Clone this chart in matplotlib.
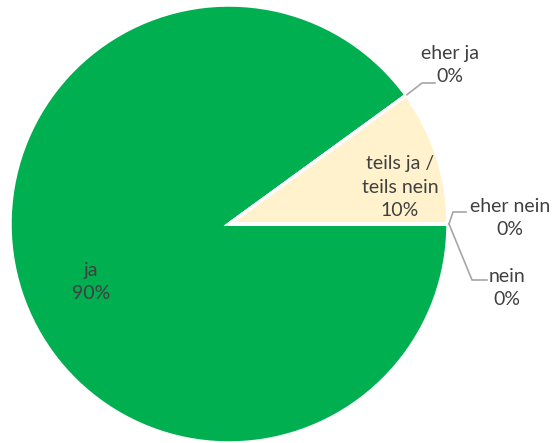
import numpy as np
import matplotlib.pyplot as plt

labels = ["ja", "eher ja", "teils ja /\nteils nein", "eher nein", "nein"]
values = [90, 0, 10, 0, 0]
colors = ["#00AF50", "#8FD19E", "#FFF2CC", "#F4B183", "#C00000"]

text_col = "#404040"
plt.rcParams['font.family'] = ['Lato', 'DejaVu Sans']

W, H = 553, 443
fig = plt.figure(figsize=(W / 100, H / 100), dpi=100)
ax = fig.add_axes([0, 0, 1, 1])

cx, cy, r = 229, H - 224, 219
ax.pie(values, colors=colors, startangle=0, counterclock=False,
       center=(cx, cy), radius=r, normalize=True,
       wedgeprops=dict(edgecolor="white", linewidth=2.5))
ax.set_xlim(0, W)
ax.set_ylim(0, H)
ax.set_aspect("equal")
ax.axis("off")

total = sum(values)
pct = [f"{round(v / total * 100)}%" for v in values]

# label positions in pixels (x, y from top)
lab_pos = [(91, 282), (450, 65), (400, 187), (510, 218), (507, 288)]
for i, (lx, ly) in enumerate(lab_pos):
    ax.text(lx, H - ly, labels[i] + "\n" + pct[i], ha="center", va="center",
            fontsize=14, color=text_col, linespacing=1.45)

# leader lines for zero slices
cum = np.cumsum([0] + values)
elbows = {1: [(422, 83), (435, 83)], 3: [(453, 212), (466, 212)],
          4: [(472, 280), (487, 280)]}
for i, pts in elbows.items():
    ang = np.deg2rad(-cum[i] / total * 360)
    sx, sy = cx + (r + 1) * np.cos(ang), cy + (r + 1) * np.sin(ang)
    xs = [sx] + [p[0] for p in pts]
    ys = [sy] + [H - p[1] for p in pts]
    ax.plot(xs, ys, color="#A6A6A6", lw=1.2)

fig.savefig("out.png", dpi=100)
